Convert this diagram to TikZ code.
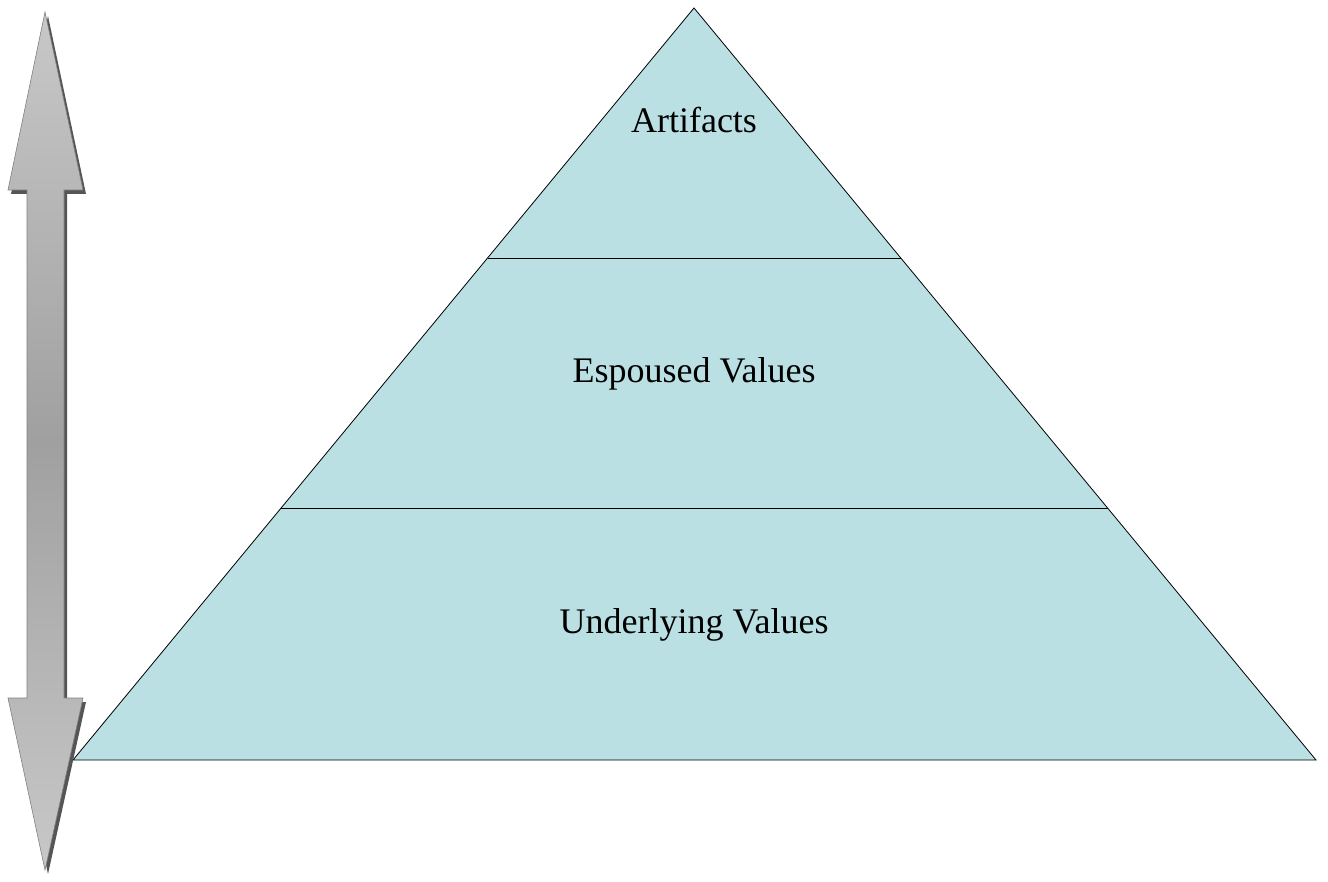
\documentclass[tikz,border=0pt]{standalone}
\usepackage{fontspec}
\setmainfont{Liberation Serif}
\usetikzlibrary{positioning,calc}

\definecolor{pyrfill}{RGB}{186,224,228}
\definecolor{arrlight}{RGB}{200,200,200}
\definecolor{arrdark}{RGB}{160,160,160}
\definecolor{arrshadow}{RGB}{85,85,85}

\tikzset{
  layer/.style={font=\fontsize{36}{40}\selectfont, anchor=base},
  arrowbody/.style={draw=arrdark!80!black, line width=0.6pt,
    top color=arrlight, bottom color=arrlight, middle color=arrdark},
}

\begin{document}
\begin{tikzpicture}[x=1pt, y=-1pt]
        \useasboundingbox (0,0) rectangle (1328,882);

        % pyramid corners
        \coordinate (top) at (694,8);
        \coordinate (bl) at (73,760);
        \coordinate (br) at (1316,760);
        \coordinate (l1) at ($(top)!0.3324!(bl)$);
        \coordinate (r1) at ($(top)!0.3324!(br)$);
        \coordinate (l2) at ($(top)!0.6649!(bl)$);
        \coordinate (r2) at ($(top)!0.6649!(br)$);

        \fill[pyrfill] (top) -- (br) -- (bl) -- cycle;
        \draw[line width=0.8pt] (top) -- (br) -- (bl) -- cycle;
        \draw[line width=0.8pt] (l1) -- (r1);
        \draw[line width=0.8pt] (l2) -- (r2);

        \node[layer] (art) at (694,133) {Artifacts};
        \node[layer] (esp) at (694,383) {Espoused Values};
        \node[layer] (und) at (694,633) {Underlying Values};

        % double arrow with shadow
        \fill[arrshadow, shift={(3,4)}]
          (45,12) -- (83,190) -- (64,190) -- (64,698) -- (83,698) -- (45,870)
          -- (8,698) -- (27,698) -- (27,190) -- (8,190) -- cycle;
        \path[arrowbody]
          (45,12) -- (83,190) -- (64,190) -- (64,698) -- (83,698) -- (45,870)
          -- (8,698) -- (27,698) -- (27,190) -- (8,190) -- cycle;
\end{tikzpicture}
\end{document}
